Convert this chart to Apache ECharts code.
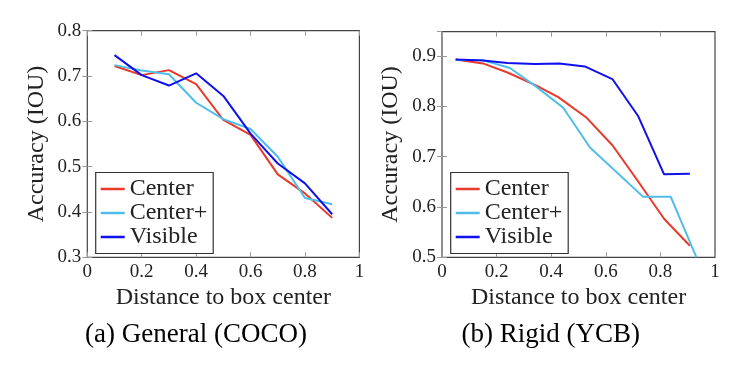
<!DOCTYPE html>
<html>
<head>
<meta charset="utf-8">
<script src="https://cdn.jsdelivr.net/npm/echarts@6/dist/echarts.min.js"></script>
<style>
html,body{margin:0;padding:0;background:#fff;}
#chart{width:735px;height:368px;}
</style>
</head>
<body>
<div id="chart"></div>
<script>
// ---- Data ----
var seriesNames = ['Center', 'Center+', 'Visible'];
var captions = ['(a) General (COCO)', '(b) Rigid (YCB)'];
var xAxisTitle = 'Distance to box center';
var yAxisTitle = 'Accuracy (IOU)';

// (a) General (COCO)
var cocoX = [0.1, 0.2, 0.3, 0.4, 0.5, 0.6, 0.7, 0.8, 0.9];
var cocoCenter = [0.722, 0.702, 0.713, 0.682, 0.603, 0.570, 0.483, 0.441, 0.387];
var cocoCenterPlus = [0.724, 0.712, 0.704, 0.641, 0.605, 0.583, 0.522, 0.431, 0.417];
var cocoVisible = [0.746, 0.702, 0.679, 0.706, 0.656, 0.573, 0.507, 0.463, 0.395];

// (b) Rigid (YCB)
var ycbCenterX = [0.05, 0.15, 0.24, 0.346, 0.426, 0.53, 0.625, 0.718, 0.814, 0.908];
var ycbCenter = [0.893, 0.885, 0.867, 0.841, 0.818, 0.777, 0.722, 0.651, 0.576, 0.523];
var ycbCenterPlusX = [0.05, 0.145, 0.249, 0.345, 0.444, 0.542, 0.737, 0.838, 0.932];
var ycbCenterPlus = [0.892, 0.892, 0.876, 0.839, 0.797, 0.718, 0.620, 0.620, 0.5];
var ycbVisibleX = [0.05, 0.15, 0.24, 0.34, 0.43, 0.523, 0.624, 0.719, 0.813, 0.908];
var ycbVisible = [0.893, 0.891, 0.886, 0.884, 0.885, 0.879, 0.854, 0.780, 0.665, 0.666];

// ---- Styling ----
var FONT = 'Liberation Serif';
var colors = ['#e8392b', '#4fbdea', '#1010ee'];

function pairs(xs, ys) { return xs.map(function (x, i) { return [x, ys[i]]; }); }

function mainX(gi) {
  return {
    type: 'value', gridIndex: gi, min: 0, max: 1, interval: 0.2, position: 'bottom',
    axisLine: { show: false },
    axisTick: { show: true, inside: true, length: 5, lineStyle: { color: '#999' } },
    splitLine: { show: false },
    axisLabel: { margin: 5, fontFamily: FONT, fontSize: 19, color: '#222' },
    name: xAxisTitle, nameLocation: 'middle', nameGap: 24,
    nameTextStyle: { fontFamily: FONT, fontSize: 24, color: '#222' }
  };
}
function mirrorX(gi) {
  return {
    type: 'value', gridIndex: gi, min: 0, max: 1, interval: 0.2, position: 'top',
    axisLine: { show: false },
    axisTick: { show: true, inside: true, length: 5, lineStyle: { color: '#999' } },
    splitLine: { show: false }, axisLabel: { show: false }
  };
}
function mainY(gi, mn, mx, showMax) {
  return {
    type: 'value', gridIndex: gi, min: mn, max: mx, interval: 0.1, position: 'left',
    axisLine: { show: false },
    axisTick: { show: true, inside: true, length: 5, lineStyle: { color: '#999' } },
    splitLine: { show: false },
    axisLabel: { margin: 6, fontFamily: FONT, fontSize: 19, color: '#222', showMaxLabel: showMax },
    name: yAxisTitle, nameLocation: 'middle', nameGap: 39, nameRotate: 90,
    nameTextStyle: { fontFamily: FONT, fontSize: 24, color: '#222' }
  };
}
function mirrorY(gi, mn, mx) {
  return {
    type: 'value', gridIndex: gi, min: mn, max: mx, interval: 0.1, position: 'right',
    axisLine: { show: false },
    axisTick: { show: true, inside: true, length: 5, lineStyle: { color: '#999' } },
    splitLine: { show: false }, axisLabel: { show: false }
  };
}
function lineSeries(name, data, xi, yi, ci) {
  return {
    type: 'line', name: name, data: data, xAxisIndex: xi, yAxisIndex: yi,
    symbol: 'none', showSymbol: false, clip: true, animation: false,
    lineStyle: { width: 2, color: colors[ci] }, itemStyle: { color: colors[ci] }
  };
}
function legendAt(left) {
  return {
    orient: 'vertical', left: left, top: 172.5,
    data: seriesNames, icon: 'rect', itemWidth: 24, itemHeight: 2.5, itemGap: 0,
    padding: [4.5, 6, 4.5, 5], borderColor: '#333', borderWidth: 1.2,
    backgroundColor: '#fff', selectedMode: false,
    textStyle: { fontFamily: FONT, fontSize: 24, lineHeight: 23, color: '#222' }
  };
}

var option = {
  backgroundColor: '#fff',
  animation: false,
  title: [
    { text: captions[0], left: 85, top: 321, padding: 0,
      textStyle: { fontFamily: FONT, fontSize: 27, fontWeight: 'normal', color: '#000' } },
    { text: captions[1], left: 461.5, top: 321, padding: 0,
      textStyle: { fontFamily: FONT, fontSize: 27, fontWeight: 'normal', color: '#000' } }
  ],
  grid: [
    { left: 87.3, top: 30.7, width: 272.1, height: 226.6, show: true, borderColor: '#444', borderWidth: 1.2, backgroundColor: 'transparent' },
    { left: 442, top: 31.7, width: 273, height: 225.6, show: true, borderColor: '#444', borderWidth: 1.2, backgroundColor: 'transparent' }
  ],
  legend: [legendAt(95.7), legendAt(450.7)],
  xAxis: [mainX(0), mirrorX(0), mainX(1), mirrorX(1)],
  yAxis: [mainY(0, 0.3, 0.8, true), mirrorY(0, 0.3, 0.8), mainY(1, 0.5, 0.948, false), mirrorY(1, 0.5, 0.948)],
  series: [
    lineSeries(seriesNames[0], pairs(cocoX, cocoCenter), 0, 0, 0),
    lineSeries(seriesNames[1], pairs(cocoX, cocoCenterPlus), 0, 0, 1),
    lineSeries(seriesNames[2], pairs(cocoX, cocoVisible), 0, 0, 2),
    lineSeries(seriesNames[0], pairs(ycbCenterX, ycbCenter), 2, 2, 0),
    lineSeries(seriesNames[1], pairs(ycbCenterPlusX, ycbCenterPlus), 2, 2, 1),
    lineSeries(seriesNames[2], pairs(ycbVisibleX, ycbVisible), 2, 2, 2)
  ]
};

var chart = echarts.init(document.getElementById('chart'), null, { renderer: 'canvas' });
chart.setOption(option);
</script>
</body>
</html>
